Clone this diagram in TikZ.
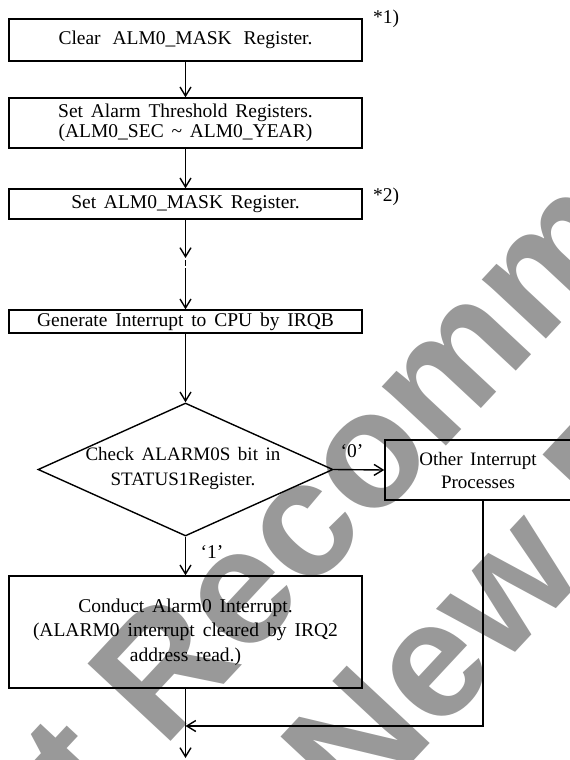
\documentclass[tikz,border=0pt]{standalone}
\usepackage{fontspec}
\setmainfont[WordSpace=1.6]{Liberation Serif}
\newfontfamily\wmfont{Liberation Sans}
\usetikzlibrary{arrows.meta,shapes.geometric}
\definecolor{wmgray}{RGB}{153,153,153}
\tikzset{
  box/.style={draw, line width=1.4pt, minimum width=353pt, inner sep=0pt, align=center, font=\fontsize{19.5}{24}\selectfont},
  arr/.style={line width=1.4pt, -{Straight Barb[length=9pt,width=11pt]}},
  lbl/.style={font=\fontsize{19.5}{24}\selectfont, inner sep=0pt},
  wm/.style={font=\wmfont\bfseries\fontsize{165}{190}\selectfont, text=wmgray, rotate=47, anchor=base west, inner sep=0pt}
}
\begin{document}
\begin{tikzpicture}[x=1pt,y=-1pt]
\useasboundingbox (0,0) rectangle (570,760);
\clip (0,0) rectangle (570,760);
% watermark
\node[wm] (wm1) at (-55,984) {Not Recommended};
\node[wm] (wm2) at (175,1017) {for New Design};
% boxes
\node[box, minimum height=42pt] (b1) at (185.5,40) {\makebox[254pt][s]{Clear ALM0\_MASK Register.}};
\node[box, minimum height=50pt] (b2) at (185.5,123) {Set Alarm Threshold Registers.\\[-4pt](ALM0\_SEC \textasciitilde{} ALM0\_YEAR)};
\node[box, minimum height=30pt] (b3) at (185.5,204) {Set ALM0\_MASK Register.};
\node[box, minimum height=23pt] (b4) at (185.5,321.5) {Generate Interrupt to CPU by IRQB};
\node[diamond, draw, line width=1.4pt, minimum width=295pt, minimum height=133pt, inner sep=0pt] (d) at (185.5,469.5) {};
\node[lbl, align=center, font=\fontsize{19}{25}\selectfont] (dt) at (183,468.5) {Check ALARM0S bit in\\STATUS1Register.};
\node[box, minimum width=186pt, minimum height=60pt, font=\fontsize{19}{23}\selectfont] (b6) at (478,470) {Other Interrupt\\Processes};
\node[box, minimum height=112pt, font=\fontsize{19.5}{24.5}\selectfont] (b5) at (185.5,632) {Conduct Alarm0 Interrupt.\\\makebox[305pt][s]{(ALARM0 interrupt cleared by IRQ2}\\address read.)};
% notes
\node[lbl, anchor=base] (n1) at (386,24) {*1)};
\node[lbl, anchor=base] (n2) at (386,201) {*2)};
% connectors
\draw[arr] (b1) -- (b2);
\draw[arr] (b2) -- (b3);
\coordinate (k1) at (185.5,258);
\coordinate (k2) at (185,260);
\coordinate (k3) at (185,266);
\coordinate (k4) at (185.5,268);
\draw[arr] (b3.south) -- (k1);
\draw[line width=0.8pt] (k2) -- (k3);
\draw[arr] (k4) -- (b4.north);
\draw[arr] (b4.south) -- (d.north);
\draw[arr] (d.east) -- (b6.west);
\node[lbl] (l0) at (352,451) {‘0’};
\draw[arr] (d.south) -- (b5.north);
\node[lbl] (l1) at (212,552) {‘1’};
\coordinate (r1) at (483,726);
\coordinate (m1) at (185.5,726);
\draw[arr] (b6.south -| r1) -- (r1) -- (m1);
\coordinate (e1) at (185.5,758);
\draw[arr] (b5.south) -- (e1);
\end{tikzpicture}
\end{document}
